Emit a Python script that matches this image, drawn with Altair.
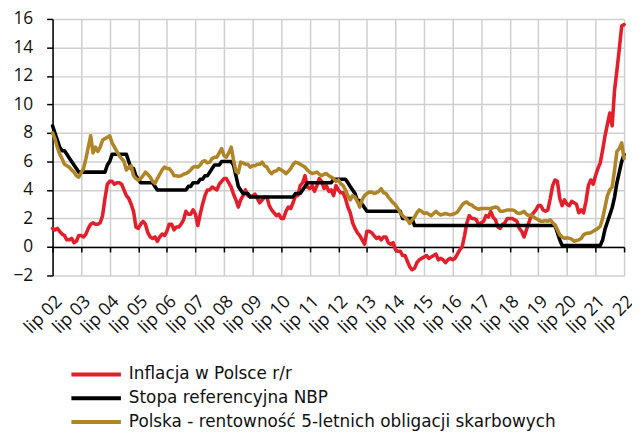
import altair as alt
import pandas as pd

series_names = [
    "Inflacja w Polsce r/r",
    "Stopa referencyjna NBP",
    "Polska - rentowność 5-letnich obligacji skarbowych",
]
series_colors = ["#E31F2B", "#000000", "#AF8527"]

tick_labels = ["lip 02", "lip 03", "lip 04", "lip 05", "lip 06", "lip 07", "lip 08",
               "lip 09", "lip 10", "lip 11", "lip 12", "lip 13", "lip 14", "lip 15",
               "lip 16", "lip 17", "lip 18", "lip 19", "lip 20", "lip 21", "lip 22"]
y_ticks = [-2, 0, 2, 4, 6, 8, 10, 12, 14, 16]

# monthly values, Jul 2002 .. Jul 2022
inflation = [
    1.3, 1.2, 1.3, 1.1, 0.9, 0.8,
    0.5, 0.5, 0.6, 0.3, 0.4, 0.8, 0.8, 0.7, 0.9, 1.3, 1.6, 1.7,
    1.6, 1.6, 1.7, 2.2, 3.4, 4.4, 4.6, 4.6, 4.4, 4.5, 4.5, 4.4,
    4.0, 3.6, 3.4, 3.0, 2.5, 1.4, 1.3, 1.6, 1.8, 1.6, 1.0, 0.7,
    0.6, 0.7, 0.4, 0.7, 0.9, 0.8, 1.1, 1.6, 1.6, 1.2, 1.4, 1.4,
    1.6, 1.9, 2.5, 2.3, 2.3, 2.6, 2.3, 1.5, 2.3, 3.0, 3.6, 4.0,
    4.0, 4.2, 4.1, 4.0, 4.4, 4.6, 4.8, 4.8, 4.5, 4.2, 3.7, 3.3,
    2.8, 3.3, 3.6, 4.0, 3.6, 3.5, 3.6, 3.7, 3.4, 3.1, 3.3, 3.5,
    3.5, 2.9, 2.6, 2.4, 2.2, 2.3, 2.0, 2.0, 2.5, 2.8, 2.7, 3.1,
    3.6, 3.6, 4.3, 4.5, 5.0, 4.2, 4.1, 4.3, 3.9, 4.3, 4.8, 4.6,
    4.1, 4.3, 3.9, 4.0, 3.6, 4.3, 4.0, 3.8, 3.8, 3.4, 2.8, 2.4,
    1.7, 1.3, 1.0, 0.8, 0.5, 0.2, 1.1, 1.1, 1.0, 0.8, 0.6, 0.7,
    0.5, 0.7, 0.7, 0.3, 0.2, 0.3, -0.2, -0.3, -0.3, -0.6, -0.6, -1.0,
    -1.4, -1.6, -1.5, -1.1, -0.9, -0.8, -0.7, -0.6, -0.8, -0.7, -0.6, -0.5,
    -0.9, -0.8, -0.9, -1.1, -0.9, -0.8, -0.9, -0.8, -0.5, -0.2, 0.0, 0.8,
    1.7, 2.2, 2.0, 2.0, 1.9, 1.5, 1.7, 1.8, 2.2, 2.1, 2.5, 2.1,
    1.9, 1.4, 1.3, 1.6, 1.7, 2.0, 2.0, 2.0, 1.9, 1.8, 1.3, 1.1,
    0.7, 1.2, 1.7, 2.2, 2.4, 2.6, 2.9, 2.9, 2.6, 2.5, 2.6, 3.4,
    4.3, 4.7, 4.6, 3.4, 2.9, 3.3, 3.0, 2.9, 3.2, 3.1, 3.0, 2.4,
    2.6, 2.4, 3.2, 4.3, 4.7, 4.4, 5.0, 5.5, 5.9, 6.8, 7.8, 8.6,
    9.4, 8.5, 11.0, 12.4, 13.9, 15.5, 15.6,
]

nbp_rate = [
    8.5, 8.0, 7.5, 7.0, 6.75, 6.75,
    6.5, 6.25, 6.0, 5.75, 5.5, 5.25, 5.25, 5.25, 5.25, 5.25, 5.25, 5.25,
    5.25, 5.25, 5.25, 5.25, 5.25, 5.75, 6.0, 6.5, 6.5, 6.5, 6.5, 6.5,
    6.5, 6.5, 6.0, 5.5, 5.5, 5.0, 4.75, 4.5, 4.5, 4.5, 4.5, 4.5,
    4.5, 4.25, 4.0, 4.0, 4.0, 4.0, 4.0, 4.0, 4.0, 4.0, 4.0, 4.0,
    4.0, 4.0, 4.0, 4.25, 4.25, 4.5, 4.5, 4.5, 4.75, 4.75, 5.0, 5.0,
    5.25, 5.5, 5.75, 5.75, 5.75, 6.0, 6.0, 6.0, 6.0, 6.0, 5.75, 5.0,
    4.25, 4.0, 3.75, 3.75, 3.75, 3.5, 3.5, 3.5, 3.5, 3.5, 3.5, 3.5,
    3.5, 3.5, 3.5, 3.5, 3.5, 3.5, 3.5, 3.5, 3.5, 3.5, 3.5, 3.5,
    3.75, 3.75, 3.75, 4.0, 4.25, 4.5, 4.5, 4.5, 4.5, 4.5, 4.5, 4.5,
    4.5, 4.5, 4.5, 4.5, 4.75, 4.75, 4.75, 4.75, 4.75, 4.75, 4.5, 4.25,
    4.0, 3.75, 3.25, 3.25, 3.0, 2.75, 2.5, 2.5, 2.5, 2.5, 2.5, 2.5,
    2.5, 2.5, 2.5, 2.5, 2.5, 2.5, 2.5, 2.5, 2.5, 2.0, 2.0, 2.0,
    2.0, 2.0, 1.5, 1.5, 1.5, 1.5, 1.5, 1.5, 1.5, 1.5, 1.5, 1.5,
    1.5, 1.5, 1.5, 1.5, 1.5, 1.5, 1.5, 1.5, 1.5, 1.5, 1.5, 1.5,
    1.5, 1.5, 1.5, 1.5, 1.5, 1.5, 1.5, 1.5, 1.5, 1.5, 1.5, 1.5,
    1.5, 1.5, 1.5, 1.5, 1.5, 1.5, 1.5, 1.5, 1.5, 1.5, 1.5, 1.5,
    1.5, 1.5, 1.5, 1.5, 1.5, 1.5, 1.5, 1.5, 1.5, 1.5, 1.5, 1.5,
    1.5, 1.5, 1.0, 0.5, 0.1, 0.1, 0.1, 0.1, 0.1, 0.1, 0.1, 0.1,
    0.1, 0.1, 0.1, 0.1, 0.1, 0.1, 0.1, 0.1, 0.1, 0.5, 1.25, 1.75,
    2.25, 2.75, 3.5, 4.5, 5.25, 6.0, 6.5,
]

bond_5y = [
    8.0, 7.6, 7.0, 6.5, 6.2, 5.8,
    5.7, 5.6, 5.4, 5.25, 5.0, 4.9, 5.2, 5.5, 6.2, 7.0, 7.8, 6.6,
    7.0, 6.7, 7.0, 7.5, 7.6, 7.7, 7.8, 7.3, 7.0, 6.7, 6.4, 6.2,
    6.0, 5.4, 5.6, 5.7, 5.0, 4.8, 4.7, 4.8, 5.0, 5.25, 5.1, 4.9,
    4.6, 4.45, 4.8, 5.1, 5.4, 5.6, 5.5, 5.5, 5.3, 5.0, 5.0, 4.95,
    5.0, 5.1, 5.15, 5.25, 5.4, 5.6, 5.65, 5.6, 5.75, 6.0, 6.05, 5.9,
    5.95, 6.2, 6.3, 6.3, 6.6, 6.9, 6.4, 6.3, 6.6, 7.0, 6.1, 5.3,
    5.2, 5.95, 5.9, 5.8, 5.8, 5.6, 5.7, 5.7, 5.8, 5.8, 5.95, 5.7,
    5.6, 5.3, 5.15, 5.3, 5.35, 5.5, 5.4, 5.3, 5.15, 5.3, 5.5, 5.8,
    5.95, 5.9, 5.8, 5.7, 5.6, 5.4, 5.25, 5.15, 5.2, 5.25, 5.1, 5.0,
    5.1, 5.15, 5.0, 4.9, 4.8, 4.6, 4.7, 4.45, 4.3, 4.0, 3.6, 3.3,
    3.6, 3.5, 3.2, 2.8, 3.3, 3.6, 3.75, 3.85, 3.85, 3.75, 3.8, 3.9,
    4.1, 3.8, 3.75, 3.5, 3.3, 3.1, 2.95, 2.7, 2.4, 2.2, 2.05, 1.9,
    1.65, 1.9, 2.1, 2.4, 2.6, 2.5, 2.35, 2.4, 2.3, 2.2, 2.35, 2.5,
    2.35, 2.25, 2.3, 2.35, 2.3, 2.25, 2.3, 2.35, 2.45, 2.7, 2.95, 3.1,
    3.15, 3.0, 2.95, 2.8, 2.7, 2.65, 2.7, 2.7, 2.7, 2.7, 2.7, 2.75,
    2.8, 2.75, 2.5, 2.5, 2.55, 2.6, 2.6, 2.6, 2.55, 2.4, 2.35, 2.4,
    2.5, 2.3, 2.2, 2.25, 2.1, 2.0, 1.9, 1.8, 1.8, 1.85, 1.8, 1.9,
    1.7, 1.55, 1.2, 0.85, 0.7, 0.6, 0.65, 0.6, 0.55, 0.4, 0.45, 0.5,
    0.6, 0.85, 0.95, 0.97, 1.0, 1.1, 1.2, 1.3, 1.45, 2.0, 2.8, 3.6,
    4.0, 4.2, 5.4, 6.7, 6.9, 7.3, 6.2,
]

rows = []
for name, vals in zip(series_names, [inflation, nbp_rate, bond_5y]):
    for i, v in enumerate(vals):
        rows.append({"m": i, "value": v, "series": name})
df = pd.DataFrame(rows)

tick_vals = [12 * i for i in range(len(tick_labels))]
label_expr = "[" + ",".join("'%s'" % t for t in tick_labels) + "][round(datum.value/12)]"

W, H = 577, 259
x_scale = alt.Scale(domain=[0, 240], nice=False, zero=False)
y_scale = alt.Scale(domain=[-2, 16], nice=False)
axis_font = "Open Sans"
grid_col = "#CFCFCF"

y_axis = alt.Axis(values=y_ticks, labelFont=axis_font, labelFontSize=17.5,
                  labelColor="#111", labelPadding=14, tickSize=6, tickColor="black",
                  tickWidth=1.5, domainColor="black", domainWidth=1.5,
                  grid=True, gridColor=grid_col, gridWidth=1.5, title=None)

lines = alt.Chart(df).mark_line(strokeWidth=3.6, strokeJoin="round", strokeCap="round").encode(
    x=alt.X("m:Q", scale=x_scale, title=None,
            axis=alt.Axis(values=tick_vals, labelExpr=label_expr, labelAngle=-45,
                          labelAlign="right", labelBaseline="top", labelPadding=17,
                          labelFont=axis_font, labelFontSize=18, labelColor="#111",
                          ticks=False, domain=False, grid=True, gridColor=grid_col,
                          gridWidth=1.5, labelOverlap=False)),
    y=alt.Y("value:Q", scale=y_scale, title=None, axis=y_axis),
    color=alt.Color("series:N", scale=alt.Scale(domain=series_names, range=series_colors),
                    legend=alt.Legend(title=None, orient="none", legendX=17, legendY=351,
                                      symbolType="stroke", symbolSize=2500,
                                      symbolStrokeWidth=4, clipHeight=16, rowPadding=7,
                                      labelFont="DejaVu Sans", labelFontSize=17,
                                      labelOffset=6, labelColor="#111", padding=0,
                                      labelLimit=700)),
)

zero_axis = alt.Chart(df[df["series"] == series_names[0]]).mark_point(opacity=0).encode(
    x=alt.X("m:Q", scale=x_scale, title=None,
            axis=alt.Axis(orient="bottom", values=tick_vals, offset=-(H * 2 / 18),
                          labels=False, grid=False, tickSize=5, tickColor="black",
                          tickWidth=1.5, domainColor="black", domainWidth=1.5)),
    y=alt.Y("value:Q", scale=y_scale, title=None, axis=y_axis),
)

chart = alt.layer(lines, zero_axis).resolve_axis(x="independent").properties(
    width=W, height=H,
    autosize=alt.AutoSizeParams(type="none"),
    padding={"left": 45, "top": 9, "right": 8, "bottom": 156},
).configure_view(stroke=None)

chart.save("out.html", embed_options={"renderer": "svg", "actions": False})
